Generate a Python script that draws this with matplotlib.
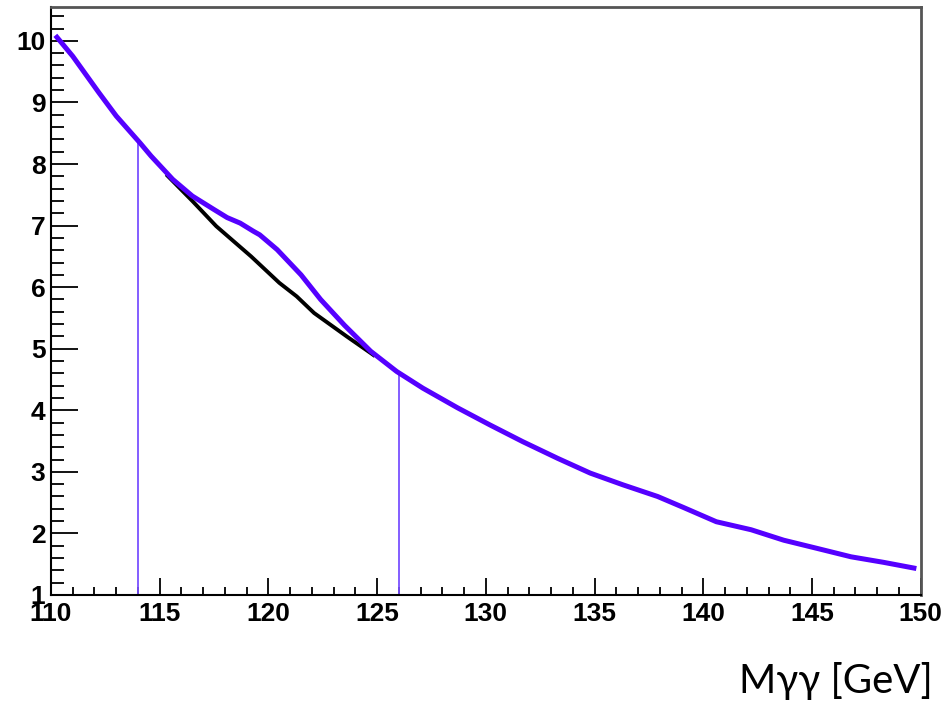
import matplotlib
matplotlib.use("Agg")
import matplotlib.pyplot as plt
from matplotlib.ticker import MultipleLocator

# Blue curve (signal + background)
blue_x = [110.2, 111.0, 112.2, 113.0, 114.1, 114.6, 115.6, 116.5, 117.5, 118.1,
          118.7, 119.3, 119.6, 120.4, 121.5, 122.4, 123.5, 124.7, 125.9, 127.1,
          128.7, 130.2, 131.7, 133.3, 134.8, 136.3, 137.9, 139.1, 140.6, 142.2,
          143.7, 145.2, 146.8, 148.3, 149.8]
blue_y = [10.09, 9.75, 9.16, 8.78, 8.34, 8.13, 7.75, 7.48, 7.26, 7.13,
          7.04, 6.91, 6.85, 6.61, 6.20, 5.80, 5.38, 4.96, 4.63, 4.36,
          4.04, 3.76, 3.49, 3.22, 2.98, 2.79, 2.60, 2.42, 2.19, 2.06,
          1.89, 1.76, 1.62, 1.53, 1.43]

# Black curve (background only)
black_x = [115.3, 116.5, 117.6, 119.2, 120.5, 121.3, 122.1, 123.6, 124.7, 124.9]
black_y = [7.83, 7.40, 6.99, 6.50, 6.07, 5.85, 5.58, 5.20, 4.93, 4.88]

# Vertical window markers
vline_x = [114.0, 126.0]
vline_top = [8.34, 4.60]

x_ticks = [110, 115, 120, 125, 130, 135, 140, 145, 150]
y_ticks = [1, 2, 3, 4, 5, 6, 7, 8, 9, 10]
xlabel = "Mγγ [GeV]"

fig = plt.figure(figsize=(9.47, 7.02), dpi=100)
ax = fig.add_axes([51 / 947, (702 - 595) / 702, (920.7 - 51) / 947, (595 - 7) / 702])

for vx, vt in zip(vline_x, vline_top):
    ax.plot([vx, vx], [1, vt], color="#7a50ff", lw=1.3, zorder=2)

ax.plot(black_x, black_y, color="black", lw=2.8, zorder=3, solid_capstyle="butt")
ax.plot(blue_x, blue_y, color="#5500ff", lw=3.6, zorder=4, solid_capstyle="butt")

ax.set_xlim(110, 150)
ax.set_ylim(1, 10.55)

ax.set_xticks(x_ticks)
ax.set_yticks(y_ticks)
ax.xaxis.set_minor_locator(MultipleLocator(1))
ax.yaxis.set_minor_locator(MultipleLocator(0.2))

ax.tick_params(axis="both", which="both", direction="in", top=False, right=False,
               color="black", width=1.3)
ax.tick_params(axis="y", which="major", length=19.5, pad=4)
ax.tick_params(axis="y", which="minor", length=9.5)
ax.tick_params(axis="x", which="major", length=12.5, pad=5)
ax.tick_params(axis="x", which="minor", length=6)

ax.set_xticklabels([str(t) for t in x_ticks], fontfamily="Liberation Sans",
                   fontweight="bold", fontsize=19)
ax.set_yticklabels([str(t) for t in y_ticks], fontfamily="Liberation Sans",
                   fontweight="bold", fontsize=19)

for side in ["left", "bottom"]:
    ax.spines[side].set_color("black")
    ax.spines[side].set_linewidth(1.5)
for side in ["top", "right"]:
    ax.spines[side].set_color("#555555")
    ax.spines[side].set_linewidth(2)

fig.text(933 / 947, (702 - 693) / 702, xlabel, ha="right", va="baseline",
         fontfamily="Lato", fontsize=29, color="black")

fig.savefig("out.png", dpi=100)
